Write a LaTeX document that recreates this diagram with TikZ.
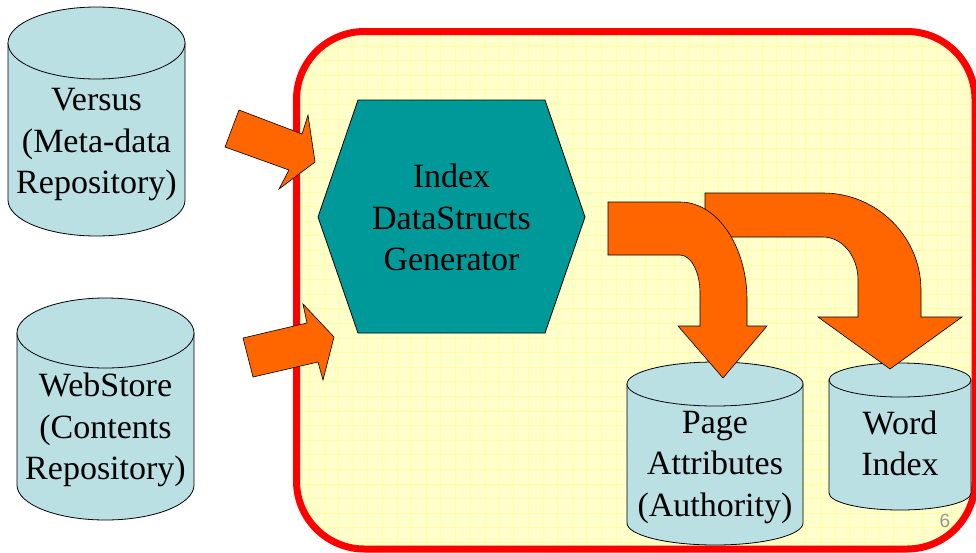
\documentclass[tikz,border=0pt]{standalone}
\usepackage{fontspec}
\setmainfont{Liberation Serif}
\newfontfamily\numfont{Liberation Sans}
\usepackage{tikz}
\usetikzlibrary{calc}
\definecolor{panelYellow}{RGB}{255,255,204}
\definecolor{panelGrid}{RGB}{255,255,165}
\definecolor{panelRed}{RGB}{255,0,0}
\definecolor{dbBlue}{RGB}{186,224,228}
\definecolor{genTeal}{RGB}{0,153,153}
\definecolor{flowOrange}{RGB}{255,102,0}
\definecolor{numGray}{RGB}{150,150,140}
\tikzset{mypanel/.style={rounded corners=68pt}}
\tikzset{mypanelBorder/.style={mypanel, draw=panelRed, line width=7pt}}
\tikzset{mygrid/.style={draw=panelGrid, line width=0.8pt}}
\tikzset{mydb/.style={draw=black, line width=0.8pt, fill=dbBlue}}
\tikzset{mytext/.style={align=center, inner sep=0pt, font=\fontsize{34}{41.5}\selectfont}}
\tikzset{mygen/.style={draw=black, line width=0.8pt, fill=genTeal}}
\tikzset{myflow/.style={draw=black, line width=0.6pt, fill=flowOrange}}
\tikzset{mynum/.style={text=numGray, inner sep=0pt, font=\numfont\fontsize{19}{22}\selectfont}}
\newcommand{\dbcyl}[8]{%
\path[mydb] (#2-#5,#3) -- (#2-#5,#4) arc[start angle=180, end angle=0, x radius=#5, y radius=#6] -- (#2+#5,#3) -- cycle;
\path[mydb] (#2,#3) ellipse [x radius=#5, y radius=#6];
\node[mytext] (#1) at (#2,#7) {#8};
}

\begin{document}
\begin{tikzpicture}[x=1pt, y=-1pt]

\useasboundingbox (0,0) rectangle (976,552);

\fill[mypanel, panelYellow] (296.5,31.5) rectangle (975,549);
\begin{scope}
\clip[mypanel] (296.5,31.5) rectangle (975,549);
\draw[mygrid, step=14.6pt, shift={(2.8,2.2)}] (280,20) grid (990,560);
\end{scope}
\draw[mypanelBorder] (296.5,31.5) rectangle (975,549);

\dbcyl{versus}{96.5}{43}{200}{88.5}{36}{145}{Versus\\(Meta-data\\Repository)}
\dbcyl{webstore}{105.5}{333}{485}{88.5}{35}{430.3}{WebStore\\(Contents\\Repository)}
\dbcyl{pageattr}{715}{384}{523}{88}{22}{467.3}{Page\\Attributes\\(Authority)}
\dbcyl{wordidx}{900}{380}{493}{71}{17}{443.5}{Word\\Index}

\filldraw[mygen] (358,100) -- (545,100) -- (585,217) -- (545,333) -- (358,333) -- (318,217) -- cycle;
\node[mytext] (gen) at (451.5,217.4) {Index\\DataStructs\\Generator};

\filldraw[myflow] (705,193) -- (823,193) .. controls (877,193) and (921,237) .. (921,290) -- (921,317) -- (962,317) -- (890,369) -- (818,317) -- (858,317) -- (858,280) .. controls (858,256) and (842,237) .. (823,237) -- (705,237) -- cycle;
\filldraw[myflow] (608,202) -- (680,202) .. controls (717,202) and (747,246) .. (747,300) -- (747,326) -- (767,326) -- (723,378) -- (678,326) -- (700,326) -- (700,293) .. controls (700,272) and (691,255) .. (680,255) -- (608,255) -- cycle;

\filldraw[myflow] (239,110) -- (302,134) -- (308,115) -- (315,162) -- (279,189) -- (289,170) -- (225,147) -- cycle;
\filldraw[myflow] (243,338) -- (307,323) -- (303,304) -- (334,337) -- (323,380) -- (318,362) -- (253,377) -- cycle;

\node[mynum] (pnum) at (945,521) {6};

\end{tikzpicture}
\end{document}
